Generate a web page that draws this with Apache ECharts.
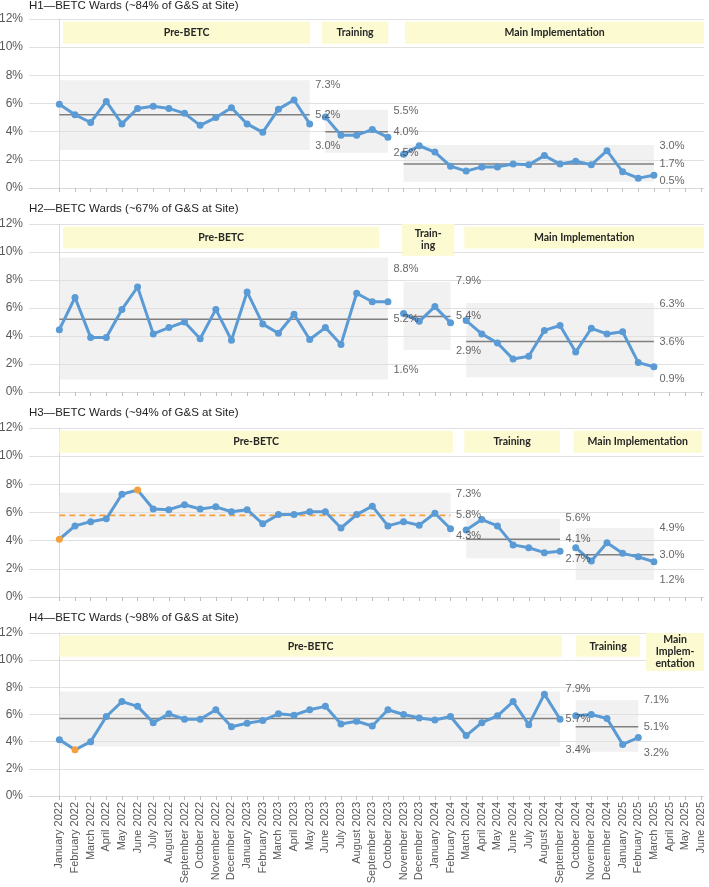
<!DOCTYPE html>
<html>
<head>
<meta charset="utf-8">
<script src="https://cdn.jsdelivr.net/npm/echarts@6/dist/echarts.min.js"></script>
<style>
html, body { margin: 0; padding: 0; background: #fff; }
#main { width: 709px; height: 887px; }
</style>
</head>
<body>
<div id="main"></div>
<script>
// tick labels (one per month)
var months = [
	'January 2022', 'February 2022', 'March 2022', 'April 2022', 'May 2022', 'June 2022',
	'July 2022', 'August 2022', 'September 2022', 'October 2022', 'November 2022', 'December 2022',
	'January 2023', 'February 2023', 'March 2023', 'April 2023', 'May 2023', 'June 2023',
	'July 2023', 'August 2023', 'September 2023', 'October 2023', 'November 2023', 'December 2023',
	'January 2024', 'February 2024', 'March 2024', 'April 2024', 'May 2024', 'June 2024',
	'July 2024', 'August 2024', 'September 2024', 'October 2024', 'November 2024', 'December 2024',
	'January 2025', 'February 2025', 'March 2025', 'April 2025', 'May 2025', 'June 2025'
];

// H1
var h1Title = 'H1\u2014BETC Wards (~84% of G&S at Site)';
var h1Rates = [5.95, 5.2, 4.65, 6.15, 4.55, 5.65, 5.8, 5.65, 5.3, 4.45, 5.0, 5.7, 4.55, 3.95, 5.6, 6.25, 4.55,
	5.05, 3.75, 3.75, 4.15, 3.6,
	2.4, 3.0, 2.55, 1.55, 1.2, 1.5, 1.5, 1.7, 1.65, 2.3, 1.7, 1.9, 1.65, 2.65, 1.15, 0.7, 0.9];
var h1PhaseStart = [0, 17, 22];
var h1PhaseEnd = [16, 21, 38];
var h1Ucl = [7.3, 5.5, 3.0];
var h1Mean = [5.2, 4.0, 1.7];
var h1Lcl = [3.0, 2.5, 0.5];
var h1BandTop = [7.65, 5.55, 3.05];
var h1BandBottom = [2.7, 2.5, 0.45];
var h1Flagged = [];
var h1BoxText = ['Pre-BETC', 'Training', 'Main Implementation'];
var h1BoxFrom = [0.24, 16.78, 22.1];
var h1BoxTo = [16.03, 21.02, 41.2];

// H2
var h2Title = 'H2\u2014BETC Wards (~67% of G&S at Site)';
var h2Rates = [4.45, 6.75, 3.9, 3.9, 5.9, 7.5, 4.15, 4.6, 5.0, 3.8, 5.9, 3.7, 7.15, 4.85, 4.2, 5.55, 3.75, 4.6, 3.4, 7.05, 6.45, 6.45,
	5.6, 5.05, 6.1, 4.95,
	5.1, 4.15, 3.5, 2.35, 2.55, 4.4, 4.75, 2.85, 4.55, 4.15, 4.3, 2.1, 1.8];
var h2PhaseStart = [0, 22, 26];
var h2PhaseEnd = [21, 25, 38];
var h2Ucl = [8.8, 7.9, 6.3];
var h2Mean = [5.2, 5.4, 3.6];
var h2Lcl = [1.6, 2.9, 0.9];
var h2BandTop = [9.6, 7.85, 6.35];
var h2BandBottom = [0.9, 3.0, 1.05];
var h2Flagged = [];
var h2BoxText = ['Pre-BETC', 'Train-\ning', 'Main Implementation'];
var h2BoxFrom = [0.24, 21.9, 25.88];
var h2BoxTo = [20.44, 25.24, 41.2];

// H3
var h3Title = 'H3\u2014BETC Wards (~94% of G&S at Site)';
var h3Rates = [4.1, 5.05, 5.35, 5.55, 7.3, 7.6, 6.25, 6.2, 6.55, 6.25, 6.4, 6.05, 6.2, 5.2, 5.85, 5.85, 6.05, 6.05, 4.9,
	5.85, 6.45, 5.05, 5.35, 5.1, 5.95, 4.85,
	4.75, 5.5, 5.05, 3.7, 3.5, 3.15, 3.25,
	3.5, 2.55, 3.85, 3.1, 2.85, 2.5];
var h3PhaseStart = [0, 26, 33];
var h3PhaseEnd = [25, 32, 38];
var h3Ucl = [7.3, 5.6, 4.9];
var h3Mean = [5.8, 4.1, 3.0];
var h3Lcl = [4.3, 2.7, 1.2];
var h3BandTop = [7.4, 5.55, 4.9];
var h3BandBottom = [4.25, 2.75, 1.2];
var h3Flagged = [0, 5];
var h3BoxText = ['Pre-BETC', 'Training', 'Main Implementation'];
var h3BoxFrom = [0, 25.88, 32.86];
var h3BoxTo = [25.15, 32.0, 41.07];

// H4
var h4Title = 'H4\u2014BETC Wards (~98% of G&S at Site)';
var h4Rates = [4.15, 3.4, 4.0, 5.85, 6.95, 6.6, 5.4, 6.05, 5.65, 5.65, 6.35, 5.1, 5.35, 5.55, 6.05, 5.95, 6.35, 6.6,
	5.3, 5.5, 5.15, 6.35, 6.0, 5.75, 5.6, 5.85, 4.45, 5.4, 5.9, 6.95, 5.25, 7.5, 5.65,
	5.9, 6.0, 5.7, 3.8, 4.3];
var h4PhaseStart = [0, 33];
var h4PhaseEnd = [32, 37];
var h4Ucl = [7.9, 7.1];
var h4Mean = [5.7, 5.1];
var h4Lcl = [3.4, 3.2];
var h4BandTop = [7.7, 7.05];
var h4BandBottom = [3.65, 3.25];
var h4Flagged = [1];
var h4BoxText = ['Pre-BETC', 'Training', 'Main\nImplem-\nentation'];
var h4BoxFrom = [0, 33.03, 37.5];
var h4BoxTo = [32.12, 37.12, 41.2];

var panels = [
	{ title: h1Title, rates: h1Rates, start: h1PhaseStart, end: h1PhaseEnd, ucl: h1Ucl, mean: h1Mean, lcl: h1Lcl,
		bandTop: h1BandTop, bandBottom: h1BandBottom, flagged: h1Flagged, boxText: h1BoxText, boxFrom: h1BoxFrom, boxTo: h1BoxTo, dashedMean: -1 },
	{ title: h2Title, rates: h2Rates, start: h2PhaseStart, end: h2PhaseEnd, ucl: h2Ucl, mean: h2Mean, lcl: h2Lcl,
		bandTop: h2BandTop, bandBottom: h2BandBottom, flagged: h2Flagged, boxText: h2BoxText, boxFrom: h2BoxFrom, boxTo: h2BoxTo, dashedMean: -1 },
	{ title: h3Title, rates: h3Rates, start: h3PhaseStart, end: h3PhaseEnd, ucl: h3Ucl, mean: h3Mean, lcl: h3Lcl,
		bandTop: h3BandTop, bandBottom: h3BandBottom, flagged: h3Flagged, boxText: h3BoxText, boxFrom: h3BoxFrom, boxTo: h3BoxTo, dashedMean: 0 },
	{ title: h4Title, rates: h4Rates, start: h4PhaseStart, end: h4PhaseEnd, ucl: h4Ucl, mean: h4Mean, lcl: h4Lcl,
		bandTop: h4BandTop, bandBottom: h4BandBottom, flagged: h4Flagged, boxText: h4BoxText, boxFrom: h4BoxFrom, boxTo: h4BoxTo, dashedMean: -1 }
];

// panel layout (pixels)
var layout = [
	{ top: 19, height: 169, titleTop: 0 },
	{ top: 224, height: 168, titleTop: 203 },
	{ top: 428, height: 169, titleTop: 407 },
	{ top: 633, height: 163, titleTop: 612 }
];

var FONT = '"Liberation Sans", Arial, sans-serif';
var BLUE = '#5B9BD5';
var ORANGE = '#F5A03A';
var tickIdx = months.map(function (m, i) { return i; });

var myChart = echarts.init(document.getElementById('main'));
var titles = [], grids = [], xAxes = [], yAxes = [], series = [];

panels.forEach(function (p, k) {
	var L = layout[k];
	titles.push({
		text: p.title, left: 29, top: L.titleTop, padding: 0,
		textStyle: { fontFamily: FONT, fontSize: 11.5, fontWeight: 'normal', color: '#222' }
	});
	grids.push({ left: 29, right: 5, top: L.top, height: L.height, outerBoundsMode: 'none' });
	xAxes.push({
		type: 'value', gridIndex: k, min: -1.94, max: 41.2,
		axisLine: { show: true, lineStyle: { color: '#d9d9d9' } },
		axisTick: { show: true, customValues: tickIdx, length: 4, lineStyle: { color: '#bfbfbf' } },
		axisLabel: {
			show: k === 3, customValues: tickIdx, rotate: 90, margin: 6,
			fontFamily: FONT, fontSize: 11, color: '#595959',
			formatter: function (v) { return months[v] || ''; }
		},
		splitLine: { show: false }
	});
	yAxes.push({
		type: 'value', gridIndex: k, min: 0, max: 12, interval: 2,
		axisLine: { show: true, lineStyle: { color: '#d9d9d9' } },
		axisTick: { show: false },
		axisLabel: { formatter: '{value}%', margin: 6, fontFamily: FONT, fontSize: 12, color: '#595959' },
		splitLine: { lineStyle: { color: '#e0e0e0' } }
	});

	// phase boxes
	var boxes = p.boxText.map(function (txt, j) {
		var lines = txt.split('\n').length;
		var half = 0.78 + (lines - 1) * 0.52;
		return [{ name: txt, xAxis: p.boxFrom[j], yAxis: 11.03 + half }, { xAxis: p.boxTo[j], yAxis: 11.03 - half }];
	});
	series.push({
		type: 'line', xAxisIndex: k, yAxisIndex: k, data: [], clip: false, silent: true, z: 1,
		markArea: {
			silent: true,
			itemStyle: { color: '#fcfad0' },
			label: {
				show: true, position: 'inside', color: '#262626',
				fontFamily: 'Lato, "Open Sans", sans-serif', fontWeight: 'bold', fontSize: 10.5, lineHeight: 12
			},
			emphasis: { disabled: true },
			data: boxes
		}
	});

	// control bands
	var bands = p.start.map(function (s, j) {
		return [{ xAxis: s, yAxis: p.bandTop[j] }, { xAxis: p.end[j], yAxis: p.bandBottom[j] }];
	});
	series.push({
		type: 'line', xAxisIndex: k, yAxisIndex: k, data: [], silent: true, z: 1,
		markArea: { silent: true, itemStyle: { color: 'rgba(225,225,225,0.45)' }, emphasis: { disabled: true }, data: bands }
	});

	var labelPts = [];
	p.start.forEach(function (s, j) {
		var e = p.end[j];
		var dashed = (j === p.dashedMean);
		// mean line
		series.push({
			type: 'line', xAxisIndex: k, yAxisIndex: k, silent: true, z: 3, symbol: 'none',
			lineStyle: dashed ? { color: ORANGE, width: 1.8, type: [6, 4] } : { color: '#808080', width: 1.5 },
			data: [[s, p.mean[j]], [e, p.mean[j]]]
		});
		// rates
		var pts = [];
		for (var i = s; i <= e; i++) {
			var item = { value: [i, p.rates[i]] };
			if (p.flagged.indexOf(i) >= 0) item.itemStyle = { color: ORANGE };
			pts.push(item);
		}
		series.push({
			type: 'line', xAxisIndex: k, yAxisIndex: k, silent: true, z: 4,
			symbol: 'circle', symbolSize: 7, showSymbol: true,
			lineStyle: { color: BLUE, width: 3 }, itemStyle: { color: BLUE },
			data: pts
		});
		[p.ucl[j], p.mean[j], p.lcl[j]].forEach(function (v) {
			labelPts.push({ value: [e, v], name: v.toFixed(1) + '%' });
		});
	});

	// limit labels
	series.push({
		type: 'scatter', xAxisIndex: k, yAxisIndex: k, silent: true, z: 5,
		symbolSize: 1, itemStyle: { color: 'rgba(0,0,0,0)' },
		label: { show: true, position: 'right', distance: 5, formatter: '{b}', fontFamily: FONT, fontSize: 11, color: '#404040' },
		data: labelPts
	});
});

myChart.setOption({
	animation: false,
	textStyle: { fontFamily: FONT },
	title: titles,
	grid: grids,
	xAxis: xAxes,
	yAxis: yAxes,
	series: series
});
</script>
</body>
</html>
